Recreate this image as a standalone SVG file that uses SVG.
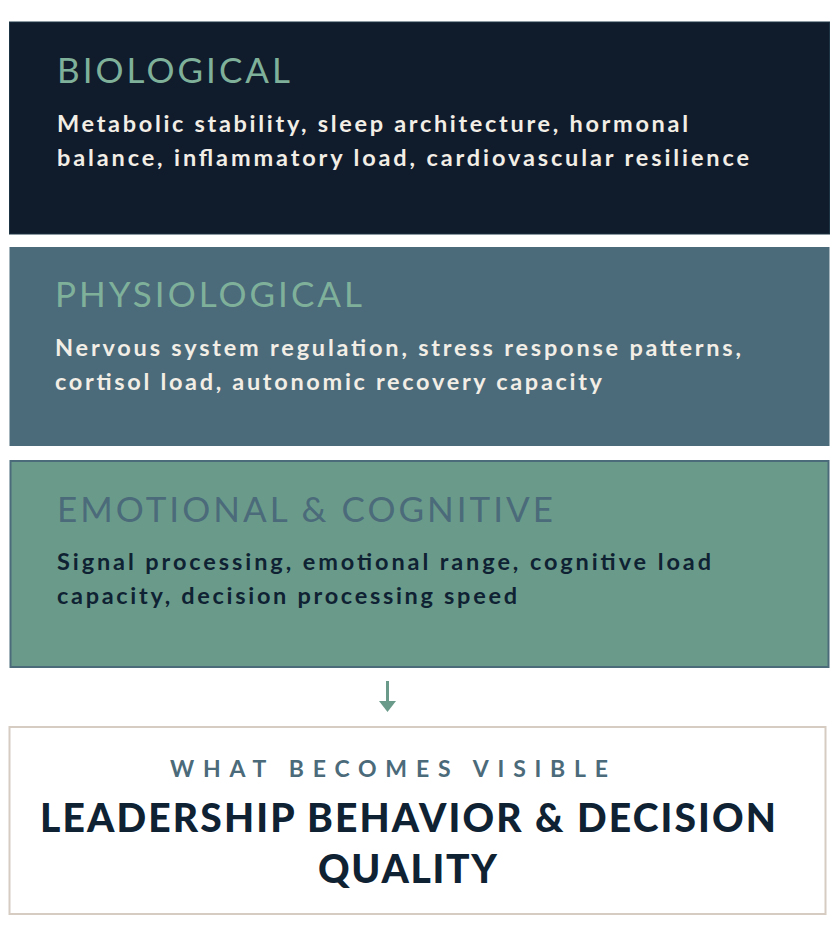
<svg xmlns="http://www.w3.org/2000/svg" width="836" height="946" viewBox="0 0 836 946">
<style>
.title{font-family:Lato,"Noto Sans","Liberation Sans",sans-serif;font-weight:400;font-size:35px}
.body{font-family:Lato,"Noto Sans","Liberation Sans",sans-serif;font-weight:700;font-size:23.5px}
.light{fill:#f2eee6}
.dark{fill:#0f2233}
.cap{font-family:Lato,"Noto Sans","Liberation Sans",sans-serif}
</style>
<rect width="836" height="946" fill="#ffffff"/>
<g id="biological">
<rect x="9.5" y="22" width="820" height="212" fill="#101b2c" stroke="#1d3445" stroke-width="1"/>
<text class="title" x="57" y="83" fill="#7fb19a" textLength="233" lengthAdjust="spacing">BIOLOGICAL</text>
<text class="body light" x="57" y="132" textLength="631" lengthAdjust="spacing">Metabolic stability, sleep architecture, hormonal</text>
<text class="body light" x="57" y="166" textLength="692" lengthAdjust="spacing">balance, inflammatory load, cardiovascular resilience</text>
</g>
<g id="physiological">
<rect x="9.5" y="247" width="820" height="199" fill="#4b6a7a"/>
<text class="title" x="55" y="307" fill="#7fb19a" textLength="307" lengthAdjust="spacing">PHYSIOLOGICAL</text>
<text class="body light" x="55" y="356" textLength="686" lengthAdjust="spacing">Nervous system regulation, stress response patterns,</text>
<text class="body light" x="55" y="390" textLength="547" lengthAdjust="spacing">cortisol load, autonomic recovery capacity</text>
</g>
<g id="emotional">
<rect x="10.5" y="461" width="818" height="206" fill="#6a9b8a" stroke="#4b6a7a" stroke-width="2"/>
<text class="title" x="57" y="522" fill="#4b6a7a" textLength="496" lengthAdjust="spacing">EMOTIONAL &amp; COGNITIVE</text>
<text class="body dark" x="57" y="570" textLength="654" lengthAdjust="spacing">Signal processing, emotional range, cognitive load</text>
<text class="body dark" x="57" y="604" textLength="460" lengthAdjust="spacing">capacity, decision processing speed</text>
</g>
<g id="connectors">
<line x1="387.5" y1="681" x2="387.5" y2="703" stroke="#6a9b8a" stroke-width="3"/>
<polygon points="379,701 396,701 387.5,712" fill="#6a9b8a"/>
</g>
<g id="outcome">
<rect x="9.5" y="727" width="816" height="187" fill="#ffffff" stroke="#d6ccc1" stroke-width="2"/>
<text class="cap" x="170" y="777" font-weight="700" font-size="23" fill="#4b6a7a" textLength="438" lengthAdjust="spacing">WHAT BECOMES VISIBLE</text>
<text class="cap" x="40" y="832" font-weight="900" font-size="39" fill="#0f2233" textLength="736" lengthAdjust="spacing">LEADERSHIP BEHAVIOR &amp; DECISION</text>
<text class="cap" x="318" y="883" font-weight="900" font-size="39" fill="#0f2233" textLength="179" lengthAdjust="spacing">QUALITY</text>
</g>
</svg>
